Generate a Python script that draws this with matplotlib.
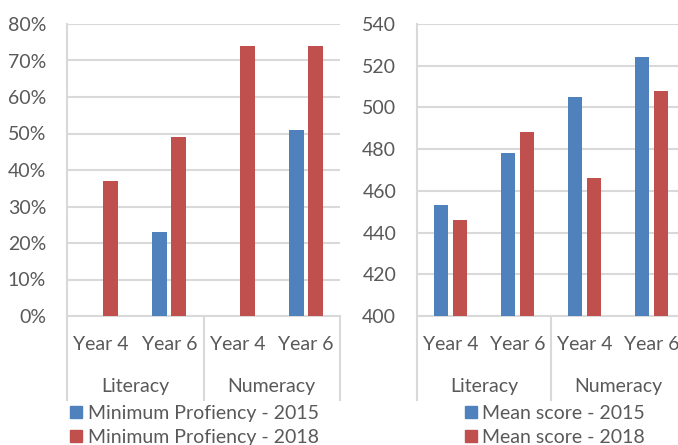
import numpy as np
import matplotlib
matplotlib.use("Agg")
import matplotlib.pyplot as plt
from matplotlib.ticker import PercentFormatter
from matplotlib.patches import Patch

plt.rcParams['font.family'] = ['Lato', 'DejaVu Sans']

# data
years = ["Year 4", "Year 6", "Year 4", "Year 6"]
groups = ["Literacy", "Numeracy"]
prof_2015 = [np.nan, 0.23, np.nan, 0.51]
prof_2018 = [0.37, 0.49, 0.74, 0.74]
mean_2015 = [453, 478, 505, 524]
mean_2018 = [446, 488, 466, 508]
prof_labels = ["Minimum Profiency - 2015", "Minimum Profiency - 2018"]
mean_labels = ["Mean score - 2015", "Mean score - 2018"]

BLUE = "#4F81BD"
RED = "#C0504D"
TEXT = "#595959"
GRID = "#D9D9D9"
FS = 14

W, H = 678, 445
fig = plt.figure(figsize=(W / 100, H / 100), dpi=100)


def draw_panel(ax, s15, s18, ylim, step, labels, leg_x):
    x = np.arange(len(years))
    bw = 0.22
    off = 0.14
    ax.bar(x - off, s15, bw, color=BLUE, zorder=3)
    ax.bar(x + off, s18, bw, color=RED, zorder=3)
    ax.set_xlim(-0.5, len(years) - 0.5)
    ax.set_ylim(*ylim)
    ax.set_yticks(np.arange(ylim[0], ylim[1] + step / 2, step))
    ax.yaxis.grid(True, color=GRID, linewidth=1.5, zorder=0)
    ax.set_axisbelow(True)
    for s in ["top", "right"]:
        ax.spines[s].set_visible(False)
    for s in ["left", "bottom"]:
        ax.spines[s].set_color(GRID)
        ax.spines[s].set_linewidth(1.5)
    ax.tick_params(axis="y", length=0, pad=15, labelsize=FS, labelcolor=TEXT)
    ax.set_xticks([])
    tr = ax.get_xaxis_transform()
    for i, yl in enumerate(years):
        ax.text(i, -0.099, yl, transform=tr, ha="center", va="center",
                fontsize=FS, color=TEXT)
    for j, g in enumerate(groups):
        ax.text(2 * j + 0.5, -0.24, g, transform=tr, ha="center", va="center",
                fontsize=FS, color=TEXT)
    for xv in [-0.5, 1.5, 3.5]:
        ax.plot([xv, xv], [0, -0.288], transform=tr, color=GRID,
                linewidth=1.5, clip_on=False)
    handles = [Patch(color=BLUE), Patch(color=RED)]
    fig.legend(handles, labels, loc="upper left",
               bbox_to_anchor=(leg_x / W, 1 - 405 / H), frameon=False,
               fontsize=FS, labelcolor=TEXT, handlelength=0.6,
               handleheight=0.6, handletextpad=0.3, labelspacing=0.35,
               borderpad=0, borderaxespad=0)


bottom = 1 - 316 / H
height = 292 / H
ax1 = fig.add_axes([67 / W, bottom, 273 / W, height])
draw_panel(ax1, prof_2015, prof_2018, (0, 0.8), 0.1, prof_labels, 70)
ax1.yaxis.set_major_formatter(PercentFormatter(1.0, decimals=0))

ax2 = fig.add_axes([417 / W, bottom, 268 / W, height])
draw_panel(ax2, mean_2015, mean_2018, (400, 540), 20, mean_labels, 465)

fig.savefig("out.png", dpi=100)
